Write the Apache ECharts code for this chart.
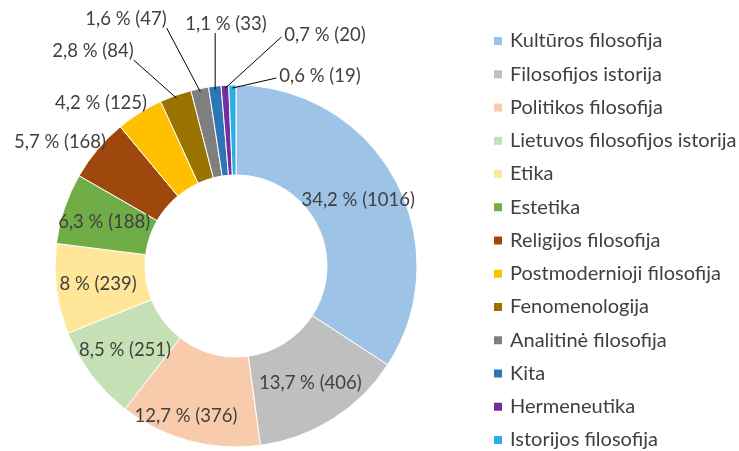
<!DOCTYPE html>
<html>
<head>
<meta charset="utf-8">
<style>
  html, body { margin: 0; padding: 0; background: #fff; }
  #chart { width: 739px; height: 451px; }
</style>
<script src="https://cdn.jsdelivr.net/npm/echarts@6/dist/echarts.min.js"></script>
</head>
<body>
<div id="chart"></div>
<script>
// Filosofijos sričių pasiskirstymas
const categories = [
  'Kultūros filosofija',
  'Filosofijos istorija',
  'Politikos filosofija',
  'Lietuvos filosofijos istorija',
  'Etika',
  'Estetika',
  'Religijos filosofija',
  'Postmodernioji filosofija',
  'Fenomenologija',
  'Analitinė filosofija',
  'Kita',
  'Hermeneutika',
  'Istorijos filosofija'
];
const counts = [1016, 406, 376, 251, 239, 188, 168, 125, 84, 47, 33, 20, 19];
// Shares as printed in the labels (percent)
const shares = [34.2, 13.7, 12.7, 8.5, 8, 6.3, 5.7, 4.2, 2.8, 1.6, 1.1, 0.7, 0.6];
const colors = [
  '#9DC3E6', '#BFBFBF', '#F8CBAD', '#C5E0B4', '#FFE699', '#70AD47',
  '#9E480E', '#FFC000', '#997300', '#7F7F7F', '#2E75B6', '#7030A0', '#2BAEE6'
];

const fontFamily = 'Lato, "Open Sans", sans-serif';
const textColor = '#404040';
const pieCenter = [236, 266];
const pieRadius = [91, 181];

// Slices with large shares get their label inside the ring
const insideCount = 6;
// Small nudges for a few inside labels
const insideLabelShift = {
  2: { dx: -7, dy: 8 }
};
// Where the labels of small slices are placed, and whether a leader line is drawn
const outsideLabelPlacement = {
  6:  { x: 60,  y: 142, line: false },
  7:  { x: 101, y: 103, line: false },
  8:  { x: 93,  y: 51,  line: true },
  9:  { x: 126, y: 19,  line: true },
  10: { x: 226, y: 24,  line: true },
  11: { x: 325, y: 35,  line: true },
  12: { x: 320, y: 76,  line: true }
};
// Label box widths, filled in while the labels are laid out
const labelWidths = {};

function pctText(i) {
  return String(shares[i]).replace('.', ',') + ' %';
}

const seriesData = categories.map((name, i) => ({
  name: name,
  value: counts[i],
  itemStyle: { color: colors[i] },
  label: { position: i < insideCount ? 'inside' : 'outside' }
}));

const chart = echarts.init(document.getElementById('chart'), null, { renderer: 'canvas' });

chart.setOption({
  animation: false,
  backgroundColor: '#ffffff',
  legend: {
    orient: 'vertical',
    left: 492,
    top: 30,
    padding: 0,
    height: 430,
    itemWidth: 10,
    itemHeight: 10,
    itemGap: 11.25,
    icon: 'rect',
    textStyle: {
      fontFamily: fontFamily,
      fontSize: 20,
      color: textColor,
      lineHeight: 22,
      padding: [0, 0, 0, 2]
    },
    data: categories
  },
  series: [{
    type: 'pie',
    center: pieCenter,
    radius: pieRadius,
    startAngle: 90,
    clockwise: true,
    avoidLabelOverlap: false,
    itemStyle: { borderColor: '#ffffff', borderWidth: 1 },
    label: {
      show: true,
      fontFamily: fontFamily,
      fontSize: 18.5,
      color: textColor,
      formatter: p => pctText(p.dataIndex) + ' (' + p.value + ')'
    },
    labelLine: { show: false },
    labelLayout: function (params) {
      const shift = insideLabelShift[params.dataIndex];
      if (shift) return { dx: shift.dx, dy: shift.dy };
      const place = outsideLabelPlacement[params.dataIndex];
      if (!place) return {};
      labelWidths[params.dataIndex] = params.labelRect.width;
      return {
        x: place.x,
        y: place.y,
        align: 'center',
        verticalAlign: 'middle'
      };
    },
    emphasis: { disabled: true },
    data: seriesData
  }]
});

// Point just inside the outer edge of a slice, at its middle angle (from the pie's own layout)
function sliceAnchor(i) {
  let lay = null;
  try {
    lay = chart.getModel().getSeriesByIndex(0).getData().getItemLayout(i);
  } catch (e) { lay = null; }
  if (lay) {
    const mid = (lay.startAngle + lay.endAngle) / 2;
    const r = lay.r - 3;
    return [lay.cx + Math.cos(mid) * r, lay.cy + Math.sin(mid) * r];
  }
  const total = counts.reduce((a, b) => a + b, 0);
  const before = counts.slice(0, i).reduce((a, b) => a + b, 0);
  const mid = -Math.PI / 2 + (before + counts[i] / 2) / total * Math.PI * 2;
  const r = pieRadius[1] - 3;
  return [pieCenter[0] + Math.cos(mid) * r, pieCenter[1] + Math.sin(mid) * r];
}

// Straight leader line from the slice to the label box:
// to the side of the box when the slice lies mostly sideways, otherwise to its bottom edge
function leaderLine(i, place) {
  const a = sliceAnchor(i);
  const w = labelWidths[i] || 80;
  const x0 = place.x - w / 2, x1 = place.x + w / 2;
  const bottom = place.y + 8;
  const cx = Math.min(Math.max(a[0], x0), x1);
  const dx = Math.abs(a[0] - cx);
  const dy = Math.abs(a[1] - bottom);
  let ex, ey;
  if (dx > 1.3 * dy) {
    ex = a[0] < x0 ? x0 - 3 : x1 + 3;
    ey = place.y + 2;
  } else {
    ex = cx;
    ey = bottom + 1;
  }
  return { x1: a[0], y1: a[1], x2: ex, y2: ey };
}

const leaderGraphics = Object.keys(outsideLabelPlacement)
  .map(Number)
  .filter(i => outsideLabelPlacement[i].line)
  .map(i => ({
    type: 'line',
    z: 100,
    silent: true,
    shape: leaderLine(i, outsideLabelPlacement[i]),
    style: { stroke: '#000000', lineWidth: 1 }
  }));

chart.setOption({ graphic: leaderGraphics });
</script>
</body>
</html>
